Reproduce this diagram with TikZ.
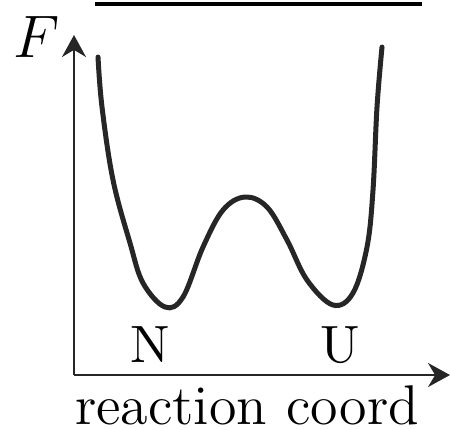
\documentclass[tikz,border=0pt]{standalone}
\usepackage{amsmath}
\usepackage{tikz}
\usetikzlibrary{arrows.meta}

\begin{document}
\begin{tikzpicture}[x=0.2pt, y=-0.2pt, >={Stealth[length=4.4pt,width=4.8pt]},
  axis/.style={line width=0.45pt, draw=black!85},
  energy/.style={line width=1pt, draw=black!85, line cap=round},
  state/.style={font=\fontsize{10.5}{12}\selectfont, inner sep=0pt}]
  \useasboundingbox (0,0) rectangle (451,429);

  % axes
  \coordinate (origin) at (74,375);
  \coordinate (ytip) at (74,35);
  \coordinate (xtip) at (450,375);
  \draw[axis, ->] (origin) -- (ytip);
  \draw[axis, ->] (origin) -- (xtip);

  % bar on top
  \coordinate (barl) at (95,4);
  \coordinate (barr) at (422,4);
  \draw[line width=0.8pt] (barl) -- (barr);

  % free energy profile
  \draw[energy] plot[smooth, tension=0.6] coordinates {
    (98,57) (102,107) (113,180) (130,243) (143,283) (165,307) (183,297)
    (203,247) (223,210) (245,197) (267,207) (287,240) (307,280) (333,305)
    (353,293) (367,247) (373,190) (377,107) (382,47)};

  \node[inner sep=0pt] (flabel) at (37,37) {\fontsize{12.6}{14}\selectfont\(F\)};
  \node[state] (native) at (150,345) {N};
  \node[state] (unfolded) at (340,345) {U};
  \node[inner sep=0pt] (xlabel) at (247,405) {\fontsize{11.2}{13}\selectfont reaction\hspace{0.8ex}coord};
\end{tikzpicture}
\end{document}
